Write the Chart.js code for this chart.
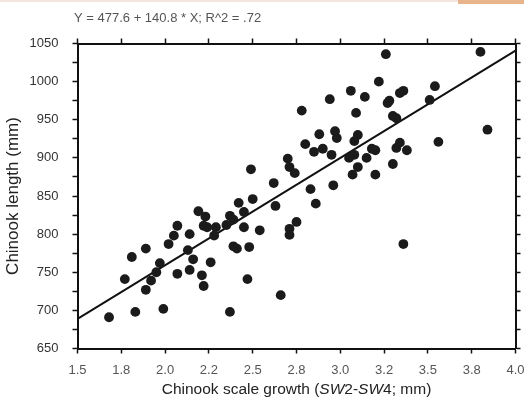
<!DOCTYPE html>
<html>
<head>
<meta charset="utf-8">
<title>Chinook length vs scale growth</title>
<script src="https://cdn.jsdelivr.net/npm/chart.js@4.4.1/dist/chart.umd.min.js"></script>
<style>
    html, body { margin: 0; padding: 0; background: #fff; }
    #wrap { position: relative; width: 524px; height: 407px; }
    .strip { position: absolute; top: 0; height: 2px; background: #f4e6dc; left: 0; width: 458px; }
    .corner { position: absolute; top: 0; height: 4px; background: #e7b48c; left: 458px; width: 66px; }
</style>
</head>
<body>
<div id="wrap">
    <canvas id="chart" width="524" height="407"></canvas>
    <div class="strip"></div>
    <div class="corner"></div>
</div>
<script>
// 回归方程
const equationText = 'Y = 477.6 + 140.8 * X; R^2 = .72';
const intercept = 477.6;
const slope = 140.8;
const lineX = [1.5, 4.0];

// 刻度标签
const xTickLabels = ['1.5', '1.8', '2.0', '2.2', '2.5', '2.8', '3.0', '3.2', '3.5', '3.8', '4.0'];
const yTickLabels = [650, 700, 750, 800, 850, 900, 950, 1000, 1050];

// 散点数据 (SW2-SW4, 体长)
const growth = [
    1.68, 1.77, 1.81, 1.83, 1.89, 1.89, 1.92, 1.95, 1.97, 1.99,
    2.02, 2.05, 2.07, 2.07, 2.13, 2.14, 2.16, 2.14, 2.19, 2.21,
    2.22, 2.26, 2.23, 2.22, 2.24, 2.29, 2.28, 2.37, 2.35, 2.39,
    2.42, 2.45, 2.45, 2.39, 2.41, 2.48, 2.47, 2.54, 2.50, 2.37,
    2.63, 2.66, 2.71, 2.71, 2.75, 2.49, 2.70, 2.71, 2.74, 2.62,
    2.83, 2.86, 2.96, 2.80, 2.85, 2.90, 2.88, 2.97, 2.98, 2.95,
    3.10, 3.08, 3.05, 3.08, 3.10, 3.07, 3.15, 3.18, 3.20, 3.30,
    3.20, 3.34, 3.32, 3.38, 3.36, 3.56, 3.84, 3.30, 3.32, 3.28,
    3.27, 3.36, 3.34, 3.54, 3.51, 3.26, 3.80, 3.22, 3.06, 3.14,
    2.94, 2.78, 3.09
];
const length = [
    691, 741, 770, 698, 781, 727, 739, 750, 762, 702,
    787, 798, 811, 748, 779, 800, 767, 753, 830, 746,
    732, 763, 823, 811, 809, 809, 798, 824, 812, 819,
    841, 829, 809, 784, 781, 783, 741, 805, 846, 698,
    837, 720, 807, 799, 816, 885, 899, 888, 880, 867,
    859, 840, 864, 918, 908, 912, 931, 935, 926, 904,
    930, 922, 900, 904, 888, 878, 900, 912, 910, 892,
    878, 920, 913, 910, 787, 921, 937, 955, 952, 975,
    972, 988, 985, 994, 976, 1036, 1039, 1000, 988, 980,
    977, 962, 959
];

const fontFamily = '"Liberation Sans", Arial, Helvetica, sans-serif';

document.addEventListener('DOMContentLoaded', function() {
    initChart();
});

// 标题和x轴标题（SW 为斜体）
const textPlugin = {
    id: 'textPlugin',
    afterDraw(chart) {
        const ctx = chart.ctx;
        ctx.save();
        ctx.fillStyle = '#555';
        ctx.font = '13px ' + fontFamily;
        ctx.textBaseline = 'middle';
        ctx.textAlign = 'left';
        ctx.fillText(equationText, 74, 18);

        const parts = [
            ['Chinook scale growth (', false],
            ['SW', true],
            ['2-', false],
            ['SW', true],
            ['4; mm)', false]
        ];
        const normal = '15.5px ' + fontFamily;
        const italic = 'italic 15.5px ' + fontFamily;
        let total = 0;
        parts.forEach(function(p) {
            ctx.font = p[1] ? italic : normal;
            total += ctx.measureText(p[0]).width;
        });
        const area = chart.chartArea;
        let x = (area.left + area.right) / 2 - total / 2;
        ctx.fillStyle = '#222';
        parts.forEach(function(p) {
            ctx.font = p[1] ? italic : normal;
            ctx.fillText(p[0], x, 390);
            x += ctx.measureText(p[0]).width;
        });
        ctx.restore();
    }
};

// 固定绘图区边距
function noPad(s) {
    s.paddingLeft = 0;
    s.paddingRight = 0;
    s.paddingTop = 0;
    s.paddingBottom = 0;
}

function initChart() {
    const ctx = document.getElementById('chart').getContext('2d');
    const points = growth.map(function(g, i) {
        return { x: g, y: length[i] };
    });
    const fitLine = lineX.map(function(x) {
        return { x: x, y: intercept + slope * x };
    });

    const edgeGrid = {
        drawOnChartArea: false,
        drawTicks: true,
        tickLength: 5,
        tickWidth: 1.5,
        tickColor: '#111'
    };
    const edgeBorder = { display: true, color: '#111', width: 2 };

    window.chinookChart = new Chart(ctx, {
        type: 'scatter',
        data: {
            datasets: [
                {
                    label: 'fit',
                    type: 'line',
                    data: fitLine,
                    borderColor: '#111',
                    borderWidth: 2,
                    pointRadius: 0,
                    fill: false,
                    order: 2
                },
                {
                    label: 'Chinook',
                    data: points,
                    backgroundColor: '#1b1b1b',
                    borderWidth: 0,
                    pointRadius: 4.9,
                    order: 1
                }
            ]
        },
        options: {
            responsive: false,
            animation: false,
            layout: { padding: 0 },
            plugins: {
                legend: { display: false },
                tooltip: { enabled: false }
            },
            scales: {
                x: {
                    type: 'linear',
                    position: 'bottom',
                    min: 1.5,
                    max: 4.0,
                    afterFit: function(s) { s.height = 58.5; noPad(s); },
                    ticks: {
                        stepSize: 0.25,
                        autoSkip: false,
                        maxRotation: 0,
                        padding: 9,
                        color: '#555',
                        font: { family: fontFamily, size: 13 },
                        callback: function(value, index) {
                            return xTickLabels[index];
                        }
                    },
                    grid: edgeGrid,
                    border: edgeBorder
                },
                x2: {
                    type: 'linear',
                    position: 'top',
                    min: 1.5,
                    max: 4.0,
                    afterFit: function(s) { s.height = 43.5; noPad(s); },
                    ticks: { stepSize: 0.25, display: false },
                    grid: edgeGrid,
                    border: edgeBorder
                },
                y: {
                    type: 'linear',
                    position: 'left',
                    min: 650,
                    max: 1050,
                    afterFit: function(s) { s.width = 77.5; noPad(s); },
                    ticks: {
                        stepSize: 25,
                        autoSkip: false,
                        padding: 14,
                        color: '#333',
                        font: { family: fontFamily, size: 13 },
                        callback: function(value) {
                            return yTickLabels.indexOf(value) >= 0 ? String(value) : '';
                        }
                    },
                    title: {
                        display: true,
                        text: 'Chinook length (mm)',
                        color: '#222',
                        font: { family: fontFamily, size: 17 },
                        padding: { top: 3, bottom: 3 }
                    },
                    grid: edgeGrid,
                    border: edgeBorder
                },
                y2: {
                    type: 'linear',
                    position: 'right',
                    min: 650,
                    max: 1050,
                    afterFit: function(s) { s.width = 8.5; noPad(s); },
                    ticks: { stepSize: 25, display: false },
                    grid: edgeGrid,
                    border: edgeBorder
                }
            }
        },
        plugins: [textPlugin]
    });
}
</script>
</body>
</html>
